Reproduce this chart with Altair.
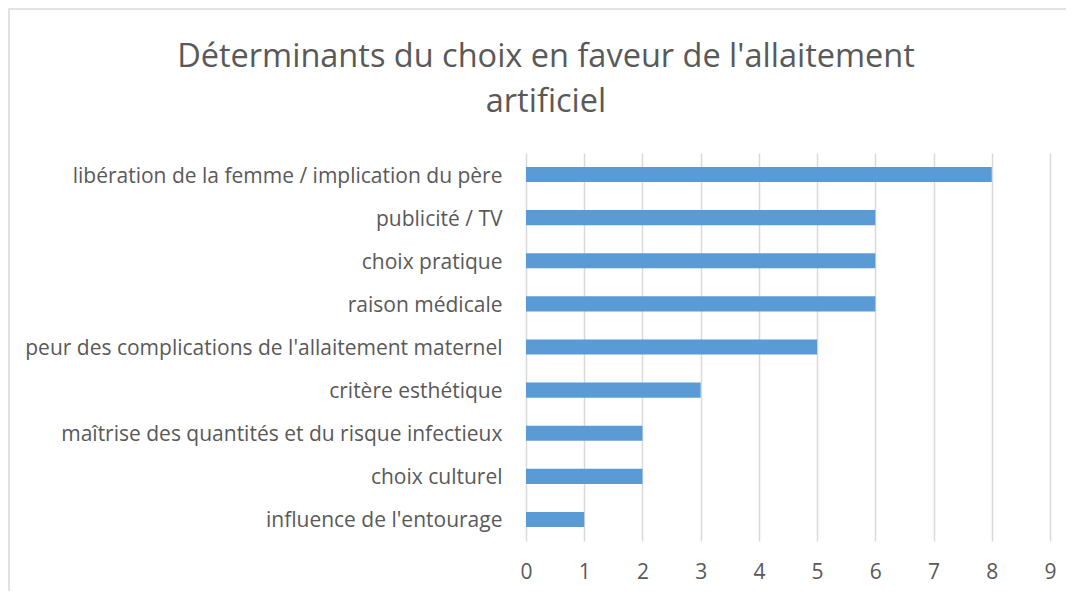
import altair as alt
import pandas as pd

categories = [
    "libération de la femme / implication du père",
    "publicité / TV",
    "choix pratique",
    "raison médicale",
    "peur des complications de l'allaitement maternel",
    "critère esthétique",
    "maîtrise des quantités et du risque infectieux",
    "choix culturel",
    "influence de l'entourage",
]
values = [8, 6, 6, 6, 5, 3, 2, 2, 1]
x_ticks = list(range(0, 10))
title_lines = ["Déterminants du choix en faveur de l'allaitement", "artificiel"]

df = pd.DataFrame({"cat": categories, "val": values})

FONT = "Open Sans"
GREY = "#595959"

W, H = 524, 388
PAD_L, PAD_T, PAD_R, PAD_B = 518, 145, 16, 50

bars = alt.Chart(df).mark_bar(color="#5B9BD5").encode(
    x=alt.X("val:Q", scale=alt.Scale(domain=[0, 9], nice=False),
            axis=alt.Axis(values=x_ticks, title=None, domain=False, ticks=False,
                          grid=True, gridColor="#d9d9d9", gridWidth=1.5,
                          labelFont=FONT, labelFontSize=21, labelColor=GREY,
                          labelPadding=20, labelFlush=False)),
    y=alt.Y("cat:N", sort=categories,
            scale=alt.Scale(paddingInner=0.65, paddingOuter=0.325),
            axis=alt.Axis(title=None, domain=False, ticks=False,
                          labelFont=FONT, labelFontSize=21, labelColor=GREY,
                          labelPadding=24, labelLimit=700, labelOffset=2)),
)

frame = alt.Chart(pd.DataFrame({"a": [0]})).mark_rect(
    fill=None, stroke="#d9d9d9", strokeWidth=1.5
).encode(
    x=alt.value(-PAD_L + 1), x2=alt.value(W + PAD_R + 40),
    y=alt.value(-PAD_T + 1), y2=alt.value(H + PAD_B + 40),
)

title = alt.Chart(pd.DataFrame({"a": [0]})).mark_text(
    text=title_lines, font=FONT, fontSize=32.5, color=GREY, align="center",
    baseline="middle", lineHeight=45,
).encode(x=alt.value(20), y=alt.value(-96))

chart = alt.layer(frame, title, bars).properties(
    width=W, height=H,
    autosize=alt.AutoSizeParams(type="none"),
    padding={"left": PAD_L, "top": PAD_T, "right": PAD_R, "bottom": PAD_B},
).configure_view(stroke=None)

chart.save("out.html", embed_options={"renderer": "svg", "actions": False})
